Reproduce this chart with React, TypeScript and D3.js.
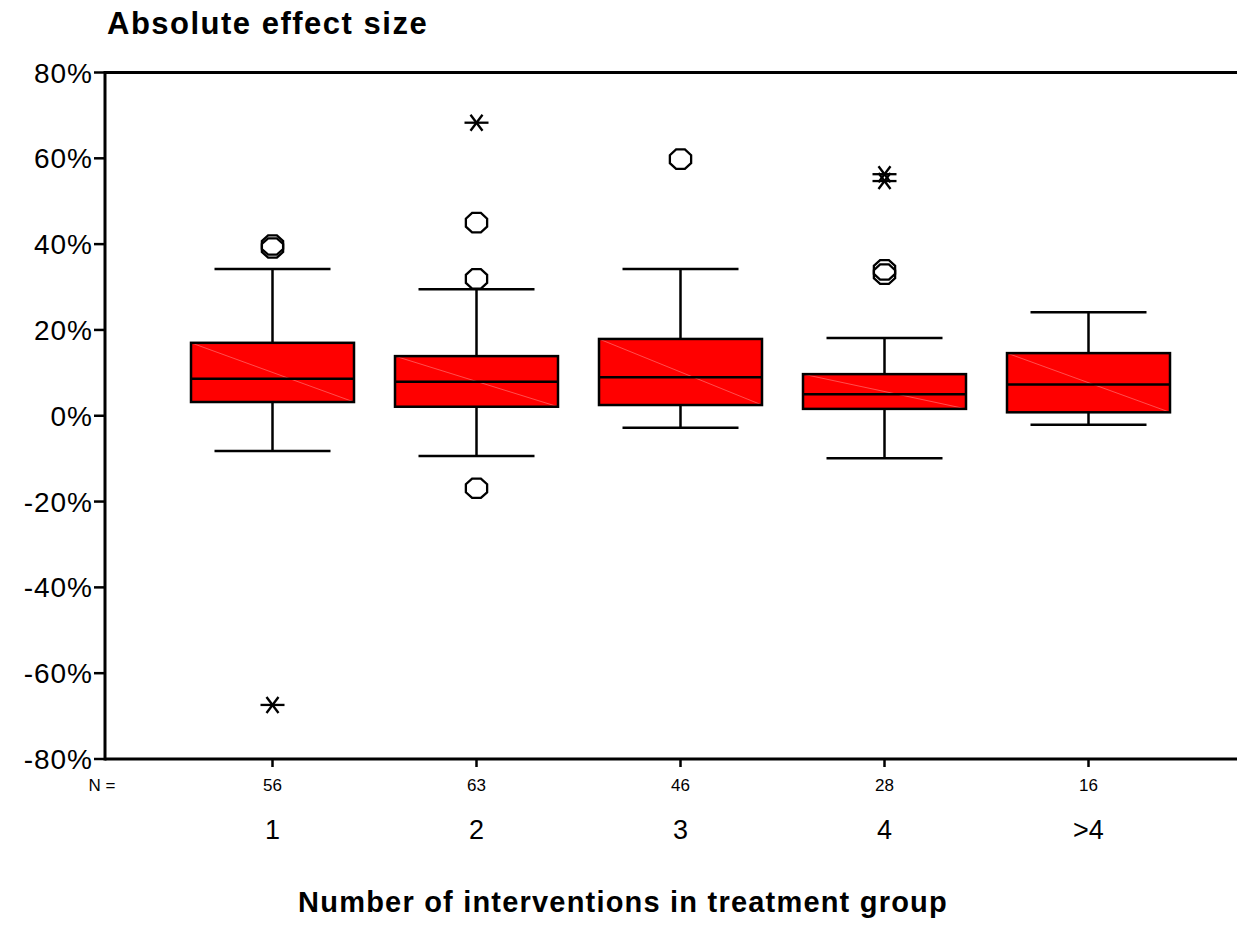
import React from "react";
import * as d3 from "d3";

const categories = ["1", "2", "3", "4", ">4"];
const counts = [56, 63, 46, 28, 16];
const q1 = [3.2, 2.1, 2.5, 1.6, 0.8];
const medians = [8.6, 7.9, 9.0, 5.0, 7.3];
const q3 = [17.0, 13.9, 17.9, 9.7, 14.6];
const whiskerLow = [-8.2, -9.4, -2.8, -9.9, -2.1];
const whiskerHigh = [34.2, 29.5, 34.2, 18.1, 24.1];
const circleOutliers: [number, number][] = [
  [0, 39.8], [0, 39.1],
  [1, 45.0], [1, 31.9], [1, -16.9],
  [2, 59.8],
  [3, 34.0], [3, 33.0],
];
const starOutliers: [number, number][] = [
  [0, -67.4],
  [1, 68.3],
  [3, 56.3], [3, 54.7],
];
const yTicks = [80, 60, 40, 20, 0, -20, -40, -60, -80];

const W = 1237;
const H = 932;
const axisX = 105;
const topY = 72.5;
const bottomY = 759;

export default function App() {
  const y = d3.scaleLinear().domain([-80, 80]).range([bottomY, topY]);
  const x = d3.scalePoint<string>().domain(categories).range([272.5, 1088.5]);
  const boxW = 163;
  const capW = 116;
  const font = "Arial, 'Liberation Sans', Helvetica, sans-serif";

  const octagon = (cx: number, cy: number) => {
    const pts: string[] = [];
    for (let k = 0; k < 8; k++) {
      const a = (Math.PI / 8) + (k * Math.PI) / 4;
      pts.push(`${cx + 11.5 * Math.cos(a)},${cy + 10.5 * Math.sin(a)}`);
    }
    return pts.join(" ");
  };

  return (
    <svg width={W} height={H} style={{ position: "absolute", left: 0, top: 0, background: "#fff" }}>
      <text x={107} y={34} fontFamily={font} fontWeight="bold" fontSize={31} letterSpacing={1.5}>
        Absolute effect size
      </text>
      {/* frame */}
      <line x1={axisX} x2={W} y1={topY} y2={topY} stroke="#000" strokeWidth={3} />
      <line x1={axisX} x2={axisX} y1={topY - 1.5} y2={bottomY + 1.5} stroke="#000" strokeWidth={3} />
      <line x1={axisX} x2={W} y1={bottomY} y2={bottomY} stroke="#000" strokeWidth={3} />
      {yTicks.map((t) => (
        <g key={t}>
          <line x1={axisX - 11} x2={axisX} y1={y(t)} y2={y(t)} stroke="#000" strokeWidth={2.5} />
          <text x={axisX - 12} y={y(t) + 10} textAnchor="end" fontFamily={font} fontSize={28} letterSpacing={1}>
            {`${t}%`}
          </text>
        </g>
      ))}
      {categories.map((c, i) => {
        const cx = x(c)!;
        return (
          <g key={c}>
            <line x1={cx} x2={cx} y1={bottomY} y2={bottomY + 8} stroke="#000" strokeWidth={2.5} />
            <text x={cx} y={791} textAnchor="middle" fontFamily={font} fontSize={17}>
              {counts[i]}
            </text>
            <text x={cx} y={839} textAnchor="middle" fontFamily={font} fontSize={27}>
              {c}
            </text>
            {/* whiskers */}
            <line x1={cx} x2={cx} y1={y(q3[i])} y2={y(whiskerHigh[i])} stroke="#000" strokeWidth={2.5} />
            <line x1={cx} x2={cx} y1={y(q1[i])} y2={y(whiskerLow[i])} stroke="#000" strokeWidth={2.5} />
            <line x1={cx - capW / 2} x2={cx + capW / 2} y1={y(whiskerHigh[i])} y2={y(whiskerHigh[i])} stroke="#000" strokeWidth={2.5} />
            <line x1={cx - capW / 2} x2={cx + capW / 2} y1={y(whiskerLow[i])} y2={y(whiskerLow[i])} stroke="#000" strokeWidth={2.5} />
            {/* box */}
            <rect x={cx - boxW / 2} y={y(q3[i])} width={boxW} height={y(q1[i]) - y(q3[i])} fill="#ff0000" />
            <line x1={cx - boxW / 2} y1={y(q3[i])} x2={cx + boxW / 2} y2={y(q1[i])} stroke="#ff7070" strokeWidth={0.7} />
            <rect x={cx - boxW / 2} y={y(q3[i])} width={boxW} height={y(q1[i]) - y(q3[i])} fill="none" stroke="#000" strokeWidth={2.5} />
            <line x1={cx - boxW / 2} x2={cx + boxW / 2} y1={y(medians[i])} y2={y(medians[i])} stroke="#000" strokeWidth={2.5} />
          </g>
        );
      })}
      {circleOutliers.map(([ci, v], k) => (
        <polygon key={`c${k}`} points={octagon(x(categories[ci])!, y(v))} fill="none" stroke="#000" strokeWidth={2.3} />
      ))}
      {starOutliers.map(([ci, v], k) => {
        const cx = x(categories[ci])!;
        const cy = y(v);
        return (
          <g key={`s${k}`} stroke="#000" strokeWidth={2.3}>
            <line x1={cx - 12} x2={cx + 12} y1={cy} y2={cy} />
            <line x1={cx - 6} x2={cx + 6} y1={cy - 8} y2={cy + 8} />
            <line x1={cx - 6} x2={cx + 6} y1={cy + 8} y2={cy - 8} />
          </g>
        );
      })}
      <text x={102} y={791} textAnchor="middle" fontFamily={font} fontSize={17}>
        N =
      </text>
      <text x={623} y={912} textAnchor="middle" fontFamily={font} fontWeight="bold" fontSize={29} letterSpacing={1.2}>
        Number of interventions in treatment group
      </text>
    </svg>
  );
}
